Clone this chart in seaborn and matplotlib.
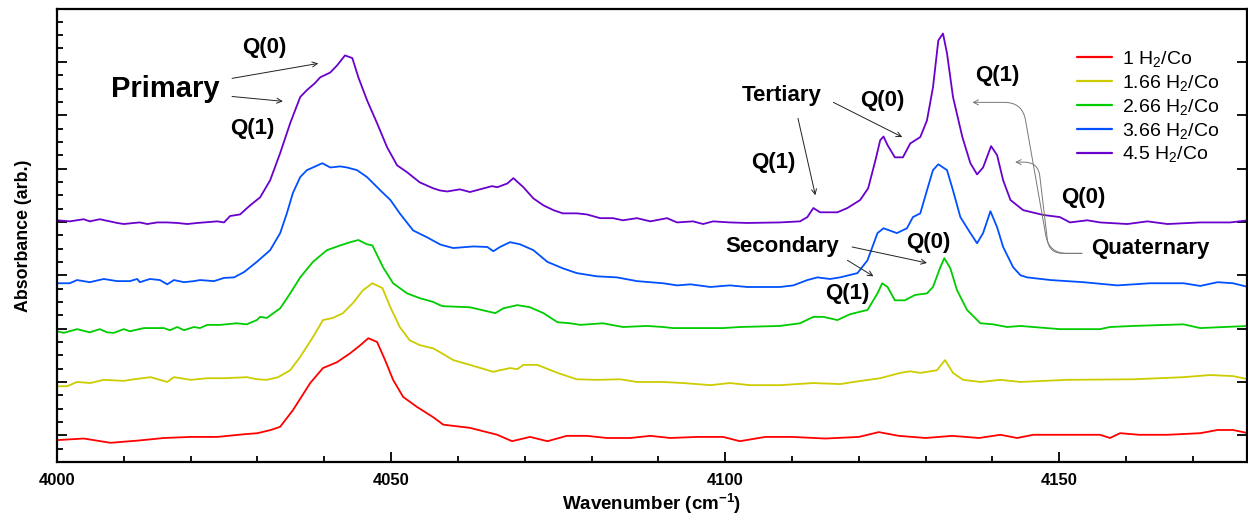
import numpy as np
import pandas as pd
import matplotlib
matplotlib.use("Agg")
import matplotlib.pyplot as plt
import seaborn as sns
from matplotlib.ticker import MultipleLocator, NullFormatter

# ---------------- data ----------------
labels = ["1 H$_2$/Co", "1.66 H$_2$/Co", "2.66 H$_2$/Co", "3.66 H$_2$/Co", "4.5 H$_2$/Co"]
colors = ["#FF0000", "#CCCC00", "#00CC00", "#0050FF", "#6A00CC"]

wn_red = [4000, 4004, 4008, 4012, 4016, 4020, 4024, 4028, 4030, 4032, 4033.4, 4035.3, 4037.9,
          4039.8, 4041.9, 4043.9, 4045.4, 4046.6, 4047.9, 4049.1, 4050.3, 4051.8, 4053.9, 4056.3,
          4057.8, 4061.8, 4065.9, 4068.1, 4070.8, 4073.4, 4076.3, 4079.3, 4082.3, 4085.8, 4088.8,
          4091.8, 4095.8, 4099.7, 4102.2, 4106, 4110, 4115, 4120, 4123, 4126, 4130, 4134, 4138,
          4141.2, 4143.7, 4146.1, 4150, 4156.1, 4157.6, 4159.1, 4162, 4166.2, 4171.1, 4173.7,
          4176.0, 4178.3]
ab_red = [0.41, 0.44, 0.36, 0.40, 0.45, 0.47, 0.47, 0.52, 0.54, 0.60, 0.66, 0.97, 1.48,
          1.76, 1.87, 2.04, 2.19, 2.32, 2.25, 1.91, 1.54, 1.22, 1.03, 0.84,
          0.70, 0.64, 0.51, 0.39, 0.47, 0.39, 0.49, 0.49, 0.45, 0.45, 0.49,
          0.45, 0.47, 0.47, 0.39, 0.47, 0.47, 0.44, 0.47, 0.56, 0.49, 0.45, 0.49, 0.45,
          0.51, 0.45, 0.51, 0.51, 0.51, 0.45, 0.54, 0.51, 0.51, 0.54, 0.60,
          0.60, 0.54]

wn_yel = [4000, 4001.5, 4003, 4005, 4007, 4010, 4011.5, 4014, 4016.5, 4017.5, 4020, 4022.5,
          4025, 4028.4, 4030, 4031.4, 4033.1, 4034.9, 4036.4, 4038.3, 4039.8, 4041.3, 4042.8,
          4044.3, 4045.8, 4047.2, 4048.7, 4049.9, 4051.3, 4052.8, 4054.3, 4056.3, 4057.3, 4059.3,
          4061.8, 4065.3, 4066.3, 4067.8, 4068.9, 4069.8, 4071.9, 4074.9, 4077.8, 4080.8, 4084.3,
          4086.8, 4090.7, 4093.7, 4097.8, 4100.7, 4103.7, 4108.2, 4113.2, 4117.2, 4119.2, 4123.2,
          4126.2, 4127.7, 4129.2, 4131.7, 4132.9, 4134.1, 4135.6, 4138.2, 4141.2, 4144.2, 4151.2,
          4161.1, 4168.6, 4172.6, 4176, 4178.3]
ab_yel = [1.42, 1.42, 1.50, 1.48, 1.54, 1.52, 1.55, 1.59, 1.50, 1.59, 1.54, 1.57,
          1.57, 1.59, 1.55, 1.54, 1.59, 1.72, 1.97, 2.34, 2.66, 2.70, 2.79,
          2.98, 3.22, 3.35, 3.26, 2.90, 2.53, 2.28, 2.19, 2.13, 2.06, 1.91,
          1.82, 1.69, 1.72, 1.76, 1.74, 1.82, 1.82, 1.67, 1.55, 1.54, 1.55,
          1.50, 1.50, 1.48, 1.44, 1.48, 1.44, 1.44, 1.48, 1.46, 1.50, 1.57,
          1.67, 1.70, 1.67, 1.72, 1.91, 1.67, 1.54, 1.50, 1.54, 1.50, 1.54,
          1.55, 1.59, 1.63, 1.61, 1.55]

wn_grn = [4000, 4001, 4003, 4004.9, 4006.4, 4007.5, 4008.5, 4010, 4010.9, 4013, 4016, 4016.9,
          4018, 4019, 4020.5, 4021.4, 4022.5, 4024.4, 4026.9, 4028.4, 4029.9, 4030.4, 4031.4,
          4033.4, 4034.9, 4036.4, 4038.3, 4040.4, 4042.4, 4043.9, 4045.1, 4046.4, 4047.2, 4048.8,
          4050.3, 4052.4, 4054.3, 4056.3, 4057.3, 4057.8, 4061.8, 4065.6, 4066.8, 4068.9, 4070.8,
          4072.8, 4074.9, 4076.8, 4078.3, 4081.7, 4084.7, 4088.3, 4090.7, 4092.2, 4096.7, 4099.7,
          4102.2, 4108.2, 4111.2, 4113.2, 4114.7, 4116.8, 4118.7, 4121.3, 4122.8, 4123.5, 4124.3,
          4125.4, 4126.9, 4128.4, 4130.2, 4131.1, 4132.2, 4132.8, 4133.7, 4134.7, 4136.2, 4138.2,
          4140.1, 4142.2, 4144.2, 4146.1, 4150.1, 4156.1, 4157.6, 4161.1, 4168.6, 4171.1, 4178.3]
ab_grn = [2.45, 2.42, 2.49, 2.43, 2.49, 2.43, 2.42, 2.49, 2.45, 2.51, 2.51, 2.47,
          2.53, 2.47, 2.53, 2.51, 2.57, 2.57, 2.60, 2.58, 2.66, 2.72, 2.70,
          2.88, 3.16, 3.46, 3.75, 3.97, 4.06, 4.12, 4.16, 4.08, 4.06, 3.65,
          3.35, 3.16, 3.07, 3.00, 2.94, 2.92, 2.90, 2.79, 2.88, 2.94, 2.90,
          2.79, 2.62, 2.60, 2.57, 2.60, 2.53, 2.55, 2.53, 2.51, 2.51, 2.51,
          2.53, 2.55, 2.60, 2.72, 2.72, 2.66, 2.77, 2.85, 3.16, 3.35, 3.28,
          3.03, 3.03, 3.13, 3.16, 3.28, 3.65, 3.82, 3.63, 3.22, 2.85, 2.60,
          2.58, 2.53, 2.55, 2.53, 2.49, 2.49, 2.53, 2.55, 2.58, 2.51, 2.55]

wn_blu = [4000, 4001.9, 4003, 4004.9, 4007, 4009, 4010.9, 4012, 4012.4, 4013.9, 4015.4, 4016.5,
          4017.5, 4019, 4020.5, 4021.4, 4023.5, 4025, 4026.5, 4028, 4029.9, 4031.9, 4033.4,
          4034.4, 4035.3, 4036.4, 4037.4, 4038.3, 4039.7, 4040.9, 4042.4, 4043.4, 4044.9, 4046.4,
          4048.4, 4049.9, 4051.3, 4053.3, 4055.4, 4057.3, 4057.8, 4059.3, 4062.3, 4064.4, 4065.3,
          4066.3, 4067.8, 4069.3, 4071.3, 4073.4, 4075.7, 4077.8, 4080.8, 4083.8, 4086.8, 4090.7,
          4092.8, 4094.8, 4097.8, 4100.7, 4103.3, 4108.2, 4110.2, 4112.3, 4113.8, 4115.7, 4117.2,
          4119.8, 4121.3, 4122.8, 4123.7, 4125.7, 4127.2, 4128.1, 4129.2, 4130.2, 4131.1, 4131.9,
          4133.2, 4134.1, 4135.2, 4136.7, 4137.7, 4138.6, 4139.7, 4140.7, 4141.6, 4143.1, 4144.2,
          4145.2, 4148.7, 4153.6, 4158.7, 4163.6, 4168.6, 4171.1, 4173.7, 4176, 4178.3]
ab_blu = [3.35, 3.35, 3.41, 3.37, 3.43, 3.39, 3.39, 3.43, 3.37, 3.43, 3.41, 3.33,
          3.41, 3.37, 3.39, 3.41, 3.39, 3.45, 3.46, 3.56, 3.75, 3.97, 4.29,
          4.66, 5.04, 5.34, 5.47, 5.52, 5.60, 5.52, 5.54, 5.52, 5.47, 5.34,
          5.09, 4.91, 4.66, 4.34, 4.21, 4.08, 4.06, 4.01, 4.04, 4.03, 3.95,
          4.03, 4.12, 4.08, 3.97, 3.75, 3.63, 3.54, 3.48, 3.46, 3.39, 3.35,
          3.31, 3.33, 3.28, 3.31, 3.28, 3.28, 3.31, 3.41, 3.46, 3.43, 3.46,
          3.54, 3.78, 4.29, 4.38, 4.29, 4.38, 4.59, 4.66, 5.09, 5.47, 5.58,
          5.47, 5.09, 4.59, 4.29, 4.10, 4.29, 4.70, 4.40, 4.03, 3.65, 3.50,
          3.46, 3.41, 3.37, 3.31, 3.35, 3.35, 3.30, 3.37, 3.35, 3.28]

wn_pur = [4000, 4001.9, 4004, 4004.9, 4006.4, 4007.9, 4009, 4010, 4011.5, 4012.4, 4013.5, 4015,
          4016.5, 4018, 4019.5, 4021, 4022, 4024, 4025, 4025.9, 4027.4, 4028.9, 4030.4, 4031.9,
          4033.4, 4034.9, 4036.4, 4037.4, 4038.6, 4039.4, 4040.9, 4041.9, 4043.1, 4044.2, 4045.1,
          4046.4, 4047.9, 4049.4, 4050.9, 4052.4, 4053.3, 4054.3, 4056.3, 4057.3, 4058.4, 4060.3,
          4061.8, 4063.3, 4065.1, 4065.9, 4067.4, 4068.3, 4069.8, 4071.3, 4072.8, 4074.3, 4075.7,
          4077.8, 4079.3, 4081.3, 4083.2, 4084.7, 4086.8, 4088.8, 4091.3, 4092.8, 4095.2, 4096.7,
          4098.2, 4100.7, 4103.3, 4108.2, 4111.2, 4112.3, 4113.2, 4114.2, 4116.8, 4118.3, 4120.2,
          4121.4, 4122.5, 4123.2, 4123.7, 4124.3, 4125.4, 4126.6, 4127.7, 4129.2, 4130.2, 4131.1,
          4131.9, 4132.6, 4133.2, 4134.1, 4135.5, 4136.7, 4137.7, 4138.6, 4139.8, 4140.7, 4141.6,
          4142.7, 4144.6, 4147.6, 4150.1, 4151.6, 4154.2, 4156.1, 4160.2, 4163.2, 4166.2, 4171.1,
          4175.6, 4178.3]
ab_pur = [4.53, 4.51, 4.55, 4.51, 4.55, 4.51, 4.48, 4.46, 4.48, 4.49, 4.46, 4.49,
          4.49, 4.48, 4.46, 4.48, 4.49, 4.51, 4.49, 4.61, 4.64, 4.81, 4.96, 5.28,
          5.79, 6.35, 6.84, 6.97, 7.10, 7.21, 7.30, 7.43, 7.62, 7.57, 7.21,
          6.78, 6.35, 5.90, 5.56, 5.43, 5.34, 5.24, 5.13, 5.09, 5.07, 5.11,
          5.06, 5.11, 5.17, 5.15, 5.22, 5.32, 5.15, 4.94, 4.81, 4.72, 4.66,
          4.66, 4.64, 4.57, 4.57, 4.53, 4.57, 4.51, 4.57, 4.49, 4.51, 4.46,
          4.51, 4.49, 4.48, 4.49, 4.51, 4.59, 4.76, 4.68, 4.68, 4.76, 4.91,
          5.13, 5.66, 6.03, 6.10, 5.94, 5.71, 5.71, 5.97, 6.09, 6.40, 7.02,
          7.90, 8.03, 7.66, 6.84, 6.09, 5.60, 5.39, 5.52, 5.92, 5.75, 5.28,
          4.91, 4.72, 4.63, 4.59, 4.49, 4.53, 4.49, 4.46, 4.51, 4.46, 4.49,
          4.49, 4.53]

xticks = [4000, 4050, 4100, 4150]

# ---------------- build long-form table ----------------
frames = []
for lab, wn, ab in zip(labels,
                       [wn_red, wn_yel, wn_grn, wn_blu, wn_pur],
                       [ab_red, ab_yel, ab_grn, ab_blu, ab_pur]):
    frames.append(pd.DataFrame({"wn": wn, "ab": ab, "series": lab}))
df = pd.concat(frames, ignore_index=True)

# ---------------- style ----------------
sns.set_style("ticks")
plt.rcParams["font.family"] = ["Liberation Sans", "DejaVu Sans"]
plt.rcParams["mathtext.default"] = "regular"
for key in ["text.color", "axes.labelcolor", "xtick.color", "ytick.color", "axes.edgecolor"]:
    plt.rcParams[key] = "black"

fig = plt.figure(figsize=(12.48, 5.16), dpi=100)
ax = fig.add_axes([57 / 1248, 54 / 516, 1190 / 1248, 453 / 516])

sns.lineplot(data=df, x="wn", y="ab", hue="series", hue_order=labels,
             palette=colors, estimator=None, linewidth=1.3, ax=ax, legend=True)

ax.set_xlim(4000, 4178.1)
ax.set_ylim(0, 8.49)

ax.xaxis.set_major_locator(MultipleLocator(50))
ax.xaxis.set_minor_locator(MultipleLocator(10))
ax.yaxis.set_major_locator(MultipleLocator(1, offset=0.5))
ax.yaxis.set_minor_locator(MultipleLocator(0.25))
ax.yaxis.set_major_formatter(NullFormatter())
ax.set_xticks(xticks)
ax.set_xticklabels([str(t) for t in xticks], fontweight="bold", fontsize=12)

ax.tick_params(axis="both", which="major", direction="in", length=7.5, width=1.3,
               top=False, right=True, pad=8, colors="black")
ax.tick_params(axis="both", which="minor", direction="in", length=4.5, width=1.3,
               top=False, right=False, colors="black")
ax.tick_params(axis="y", which="major", right=True, labelright=False)

for sp in ax.spines.values():
    sp.set_linewidth(1.6)
    sp.set_color("black")
    sp.set_visible(True)

ax.set_xlabel("Wavenumber (cm$^{-1}$)", fontweight="bold", fontsize=13.5, labelpad=3)
ax.set_ylabel("Absorbance (arb.)", fontweight="bold", fontsize=12.8, labelpad=10)

leg = ax.legend(loc="upper left", bbox_to_anchor=(0.857, 0.912), frameon=False,
                fontsize=14, handlelength=1.8, handletextpad=0.5, labelspacing=0.2,
                borderaxespad=0, borderpad=0)
for h in leg.get_lines():
    h.set_linewidth(1.6)
for t in leg.get_texts():
    t.set_color("black")

# ---------------- annotations ----------------
def arrow(xy, xytext, style="arc3", color="#222222"):
    ax.annotate("", xy=xy, xytext=xytext,
                arrowprops=dict(arrowstyle="->", color=color, lw=0.7,
                                shrinkA=0, shrinkB=0, connectionstyle=style,
                                mutation_scale=9))

def label(x, y, s, size=16):
    ax.text(x, y, s, ha="center", va="center", fontsize=size, fontweight="bold",
            color="black")

label(4016.2, 7.00, "Primary", size=21)
label(4031.1, 7.77, "Q(0)")
label(4029.2, 6.25, "Q(1)")
arrow((4039.1, 7.47), (4026.2, 7.19))
arrow((4033.8, 6.76), (4026.2, 6.85))

label(4108.5, 6.87, "Tertiary")
label(4123.5, 6.78, "Q(0)")
label(4107.2, 5.62, "Q(1)")
arrow((4113.5, 5.00), (4110.9, 6.44))
arrow((4126.5, 6.09), (4116.2, 6.74))

label(4108.5, 4.04, "Secondary")
label(4130.4, 4.12, "Q(0)")
label(4118.3, 3.16, "Q(1)")
arrow((4130.2, 3.73), (4119.0, 4.03))
arrow((4122.2, 3.48), (4118.3, 3.78))

label(4163.6, 4.01, "Quaternary")
label(4140.7, 7.25, "Q(1)")
label(4153.6, 4.96, "Q(0)")
arrow((4137.0, 6.74), (4153.4, 3.91),
      style="arc,angleA=180,angleB=0,armA=33,armB=50,rad=18", color="#777777")
arrow((4143.4, 5.62), (4153.4, 3.91),
      style="arc,angleA=180,angleB=0,armA=33,armB=23,rad=14", color="#777777")

fig.savefig("out.png", dpi=100)
